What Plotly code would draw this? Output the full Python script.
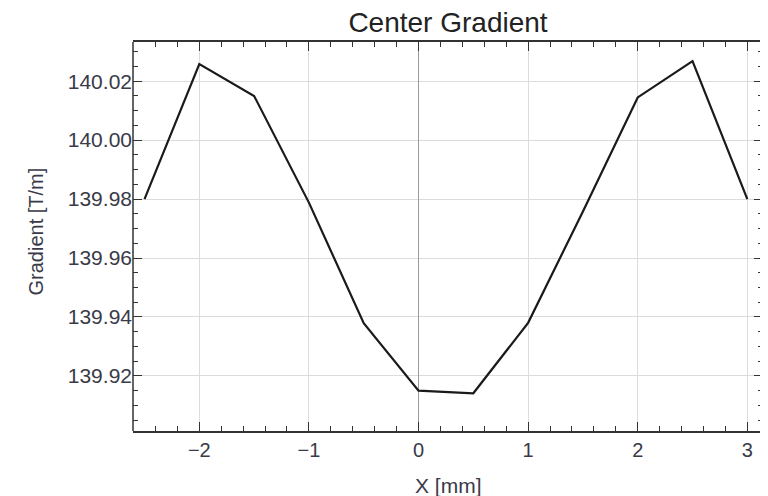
import plotly.graph_objects as go

x_mm = [-2.5, -2.0, -1.5, -1.0, -0.5, 0.0, 0.5, 1.0, 1.5, 2.0, 2.5, 3.0]
gradient = [139.980, 140.0258, 140.0150, 139.9788, 139.9379, 139.9150,
            139.9141, 139.9380, 139.9758, 140.0145, 140.0268, 139.9800]

x_ticks = [-2, -1, 0, 1, 2, 3]
x_tick_text = ["\u22122", "\u22121", "0", "1", "2", "3"]
y_ticks = [139.92, 139.94, 139.96, 139.98, 140.00, 140.02]
y_tick_text = ["139.92", "139.94", "139.96", "139.98", "140.00", "140.02"]

FONT = "Liberation Sans, Arial, sans-serif"
TICKCOL = "#3a3a48"

fig = go.Figure()
fig.add_trace(go.Scatter(x=x_mm, y=gradient, mode="lines",
                         line=dict(color="#1a1a1a", width=2.2),
                         showlegend=False, hoverinfo="skip"))

fig.update_layout(
    width=768, height=496,
    margin=dict(l=125, r=13, t=34, b=73, autoexpand=False),
    paper_bgcolor="white", plot_bgcolor="white",
    font=dict(family=FONT, color=TICKCOL),
    title=dict(text="Center Gradient", x=(125 + 755) / 2 / 768, xanchor="center",
               y=1 - 14 / 496, yanchor="middle", yref="container",
               font=dict(size=28, color="#222222", family=FONT)),
    annotations=[
        dict(text="X [mm]", xref="paper", yref="paper", x=0.5, y=(431 - 485) / 389,
             xanchor="center", yanchor="middle", showarrow=False,
             font=dict(size=21, color=TICKCOL, family=FONT)),
        dict(text="Gradient [T/m]", xref="paper", yref="paper",
             x=(35 - 133) / 630, y=(431 - 231.5) / 389, textangle=-90,
             xanchor="center", yanchor="middle", showarrow=False,
             font=dict(size=20, color=TICKCOL, family=FONT)),
    ],
)

fig.update_xaxes(
    automargin=False,
    range=[-2.605, 3.143], tickvals=x_ticks, ticktext=x_tick_text,
    ticks="inside", ticklen=9, tickwidth=1.2, tickcolor="#333",
    mirror="ticks", showline=True, linecolor="#333", linewidth=1.5,
    showgrid=True, gridcolor="#dcdcdc", gridwidth=1,
    zeroline=True, zerolinecolor="#9a9a9a", zerolinewidth=1.2,
    minor=dict(dtick=0.2, tick0=0, ticks="inside", ticklen=5, tickcolor="#333",
               tickwidth=1, showgrid=False),
    tickfont=dict(size=20, color=TICKCOL, family=FONT),
)
fig.update_yaxes(
    automargin=False,
    range=[139.9013, 140.0333], tickvals=y_ticks, ticktext=y_tick_text,
    ticks="inside", ticklen=9, tickwidth=1.2, tickcolor="#333",
    mirror="ticks", showline=False,
    showgrid=True, gridcolor="#dcdcdc", gridwidth=1, zeroline=False,
    minor=dict(dtick=0.005, tick0=139.9, ticks="inside", ticklen=5, tickcolor="#333",
               tickwidth=1, showgrid=False),
    tickfont=dict(size=21, color=TICKCOL, family=FONT),
)
# left frame line
fig.add_shape(type="line", xref="paper", yref="paper", x0=0, x1=0, y0=0, y1=1,
              line=dict(color="#333", width=1.5))

fig.write_html("out.html")
